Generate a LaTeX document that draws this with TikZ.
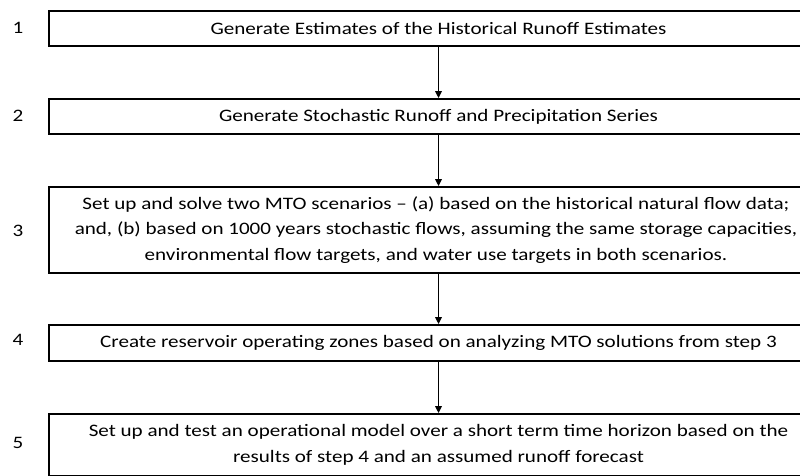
\documentclass[tikz,border=0pt]{standalone}
\usepackage{fontspec}
\setmainfont{Carlito}[FakeStretch=1.205]
\usetikzlibrary{arrows.meta}
\begin{document}
\begin{tikzpicture}[x=1pt,y=-1pt,
  stepbox/.style={draw=black, line width=1.8pt, minimum width=779pt,
    inner sep=0pt, align=center, fill=white,
    font=\fontsize{17.5}{25.5}\selectfont},
  num/.style={font=\fontsize{17.5}{20}\selectfont, inner sep=0pt},
  flow/.style={line width=1.6pt, -{Triangle[width=6.5pt,length=7pt]}}]
\useasboundingbox (0,0) rectangle (800,475);
\begin{scope}
\clip (0,0) rectangle (800,475);
\node[stepbox, minimum height=35pt] (b1) at (438.5,28.5)
  {Generate Estimates of the Historical Runoff Estimates};
\node[stepbox, minimum height=35pt] (b2) at (438.5,116.5)
  {Generate Stochastic Runoff and Precipitation Series};
\node[stepbox, minimum height=86pt, minimum width=774pt] (b3) at (436,230)
  {Set up and solve two MTO scenarios -- (a) based on the historical natural flow data;\\
   and, (b) based on 1000 years stochastic flows, assuming the same storage capacities,\\
   environmental flow targets, and water use targets in both scenarios.};
\node[stepbox, minimum height=36pt] (b4) at (438.5,343)
  {Create reservoir operating zones based on analyzing MTO solutions from step 3};
\node[stepbox, minimum height=62pt] (b5) at (438.5,445)
  {Set up and test an operational model over a short term time horizon based on the\\
   results of step 4 and an assumed runoff forecast};
\end{scope}
\node[num] (n1) at (18,28) {1};
\node[num] (n2) at (18,116) {2};
\node[num] (n3) at (18,231) {3};
\node[num] (n4) at (18,340) {4};
\node[num] (n5) at (18,443) {5};
\draw[flow] (b1.south) -- (b2.north);
\draw[flow] (b2.south) -- (b3.north -| b1.south);
\draw[flow] (b3.south -| b1.south) -- (b4.north);
\draw[flow] (b4.south) -- (b5.north);
\end{tikzpicture}
\end{document}
